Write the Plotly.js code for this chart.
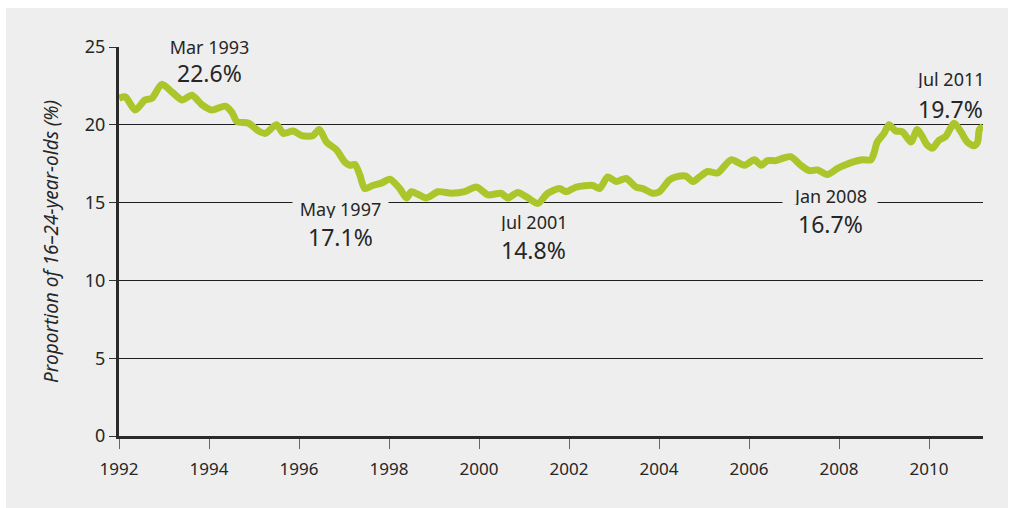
<!DOCTYPE html>
<html>
<head>
<meta charset="utf-8">
<script src="https://cdn.plot.ly/plotly-3.0.1.min.js"></script>
<style>
  html, body { margin: 0; padding: 0; background: #ffffff; }
  #chart { position: absolute; left: 6px; top: 8px; width: 1002px; height: 500px; }
</style>
</head>
<body>
<div id="chart"></div>
<script>
// Data (decimal years, % of 16–24-year-olds)
const years = [
  1992.00, 1992.14, 1992.36, 1992.58, 1992.73, 1992.95, 1993.18, 1993.40, 1993.62, 1993.84,
  1994.06, 1994.36, 1994.51, 1994.62, 1994.88, 1995.10, 1995.25, 1995.50, 1995.65, 1995.87,
  1996.06, 1996.31, 1996.45, 1996.61, 1996.83, 1997.02, 1997.13, 1997.24, 1997.35, 1997.46,
  1997.64, 1997.83, 1998.02, 1998.24, 1998.39, 1998.50, 1998.83, 1999.09, 1999.39, 1999.68,
  1999.94, 2000.20, 2000.49, 2000.64, 2000.86, 2001.09, 2001.31, 2001.53, 2001.79, 2001.94,
  2002.16, 2002.53, 2002.68, 2002.86, 2003.05, 2003.27, 2003.49, 2003.64, 2003.86, 2004.01,
  2004.23, 2004.38, 2004.60, 2004.75, 2004.90, 2005.08, 2005.30, 2005.60, 2005.90, 2006.12,
  2006.27, 2006.41, 2006.60, 2006.75, 2006.93, 2007.15, 2007.34, 2007.52, 2007.74, 2007.97,
  2008.12, 2008.30, 2008.52, 2008.71, 2008.78, 2008.85, 2009.00, 2009.11, 2009.26, 2009.41,
  2009.60, 2009.74, 2009.85, 2009.96, 2010.08, 2010.22, 2010.37, 2010.56, 2010.71, 2010.85,
  2011.00, 2011.08, 2011.12, 2011.20
];
const proportion = [
  21.7, 21.8, 20.95, 21.6, 21.7, 22.6, 22.1, 21.6, 21.9, 21.3,
  20.95, 21.2, 20.8, 20.2, 20.1, 19.6, 19.45, 20.0, 19.45, 19.6,
  19.3, 19.3, 19.7, 18.9, 18.4, 17.6, 17.4, 17.45, 16.8, 15.9,
  16.1, 16.25, 16.5, 15.9, 15.3, 15.7, 15.3, 15.7, 15.6, 15.7,
  16.0, 15.5, 15.6, 15.3, 15.65, 15.3, 14.95, 15.6, 15.9, 15.7,
  16.0, 16.1, 15.9, 16.65, 16.35, 16.55, 16.0, 15.9, 15.6, 15.7,
  16.45, 16.65, 16.7, 16.35, 16.65, 17.0, 16.9, 17.75, 17.4, 17.75,
  17.4, 17.7, 17.7, 17.85, 17.95, 17.4, 17.05, 17.1, 16.8, 17.2,
  17.4, 17.6, 17.75, 17.75, 18.2, 18.9, 19.45, 20.0, 19.6, 19.55,
  18.9, 19.7, 19.25, 18.7, 18.5, 19.0, 19.25, 20.1, 19.55, 18.9,
  18.65, 18.9, 19.7, 19.9
];
const xTickValues = [1992, 1994, 1996, 1998, 2000, 2002, 2004, 2006, 2008, 2010];
const xTickLabels = ['1992', '1994', '1996', '1998', '2000', '2002', '2004', '2006', '2008', '2010'];
const yTickValues = [0, 5, 10, 15, 20, 25];
const yTickLabels = ['0', '5', '10', '15', '20', '25'];
const calloutDates = ['Mar 1993', 'May 1997', 'Jul 2001', 'Jan 2008', 'Jul 2011'];
const calloutValues = ['22.6%', '17.1%', '14.8%', '16.7%', '19.7%'];

const FONT = '"Noto Sans", "Open Sans", sans-serif';
const TEXT = '#262626';
const PANEL = '#eeeeee';

// label placement (positions only)
const calloutPos = [
  {x: 1994.0,  yDate: 25.0,  yVal: 23.36, bg: true,  w: 93},
  {x: 1996.93, yDate: 14.59, yVal: 12.79, bg: true,  w: 95},
  {x: 2001.22, yDate: 13.78, yVal: 11.98, bg: false, w: 0},
  {x: 2007.8,  yDate: 15.42, yVal: 13.66, bg: true,  w: 94},
  {x: 2010.47, yDate: 22.95, yVal: 21.06, bg: false, w: 0}
];

const annotations = [];
calloutDates.forEach((d, i) => {
  const p = calloutPos[i];
  const a = {
    x: p.x, y: p.yDate, xref: 'x', yref: 'y', text: d, showarrow: false,
    xanchor: 'center', yanchor: 'middle', height: 18, borderpad: 0,
    font: {family: FONT, size: 18, color: TEXT}
  };
  if (p.bg) { a.bgcolor = PANEL; a.width = p.w; }
  annotations.push(a);
  annotations.push({
    x: p.x, y: p.yVal, xref: 'x', yref: 'y', text: calloutValues[i], showarrow: false,
    xanchor: 'center', yanchor: 'middle', height: 25, borderpad: 0,
    font: {family: FONT, size: 23, color: TEXT}
  });
});

const trace = {
  x: years, y: proportion, type: 'scatter', mode: 'lines',
  line: {color: '#aac62b', width: 7, shape: 'spline', smoothing: 0.7},
  hoverinfo: 'skip'
};

const layout = {
  width: 1002, height: 500,
  paper_bgcolor: PANEL, plot_bgcolor: PANEL,
  margin: {l: 113, r: 25, t: 39, b: 72, pad: 0},
  showlegend: false,
  font: {family: FONT, size: 17, color: TEXT},
  xaxis: {
    range: [1992, 2011.2], tickmode: 'array', tickvals: xTickValues, ticktext: xTickLabels,
    showgrid: false, zeroline: false,
    showline: true, linecolor: '#2a2a2a', linewidth: 3,
    ticks: 'outside', ticklen: 10, tickwidth: 1, tickcolor: '#666666',
    ticklabelstandoff: 6,
    tickfont: {family: FONT, size: 17, color: TEXT}
  },
  yaxis: {
    range: [0, 25], tickmode: 'array', tickvals: yTickValues, ticktext: yTickLabels,
    showgrid: true, gridcolor: '#1e1e1e', gridwidth: 1, zeroline: false,
    showline: true, linecolor: '#2a2a2a', linewidth: 3,
    ticks: 'outside', ticklen: 7, tickwidth: 1, tickcolor: '#333333',
    tickfont: {family: FONT, size: 18, color: TEXT},
    title: {text: '<i>Proportion of 16–24-year-olds (%)</i>', standoff: 22,
            font: {family: FONT, size: 19, color: TEXT}}
  },
  annotations: annotations
};

Plotly.newPlot('chart', [trace], layout, {displayModeBar: false, staticPlot: true});
</script>
</body>
</html>
